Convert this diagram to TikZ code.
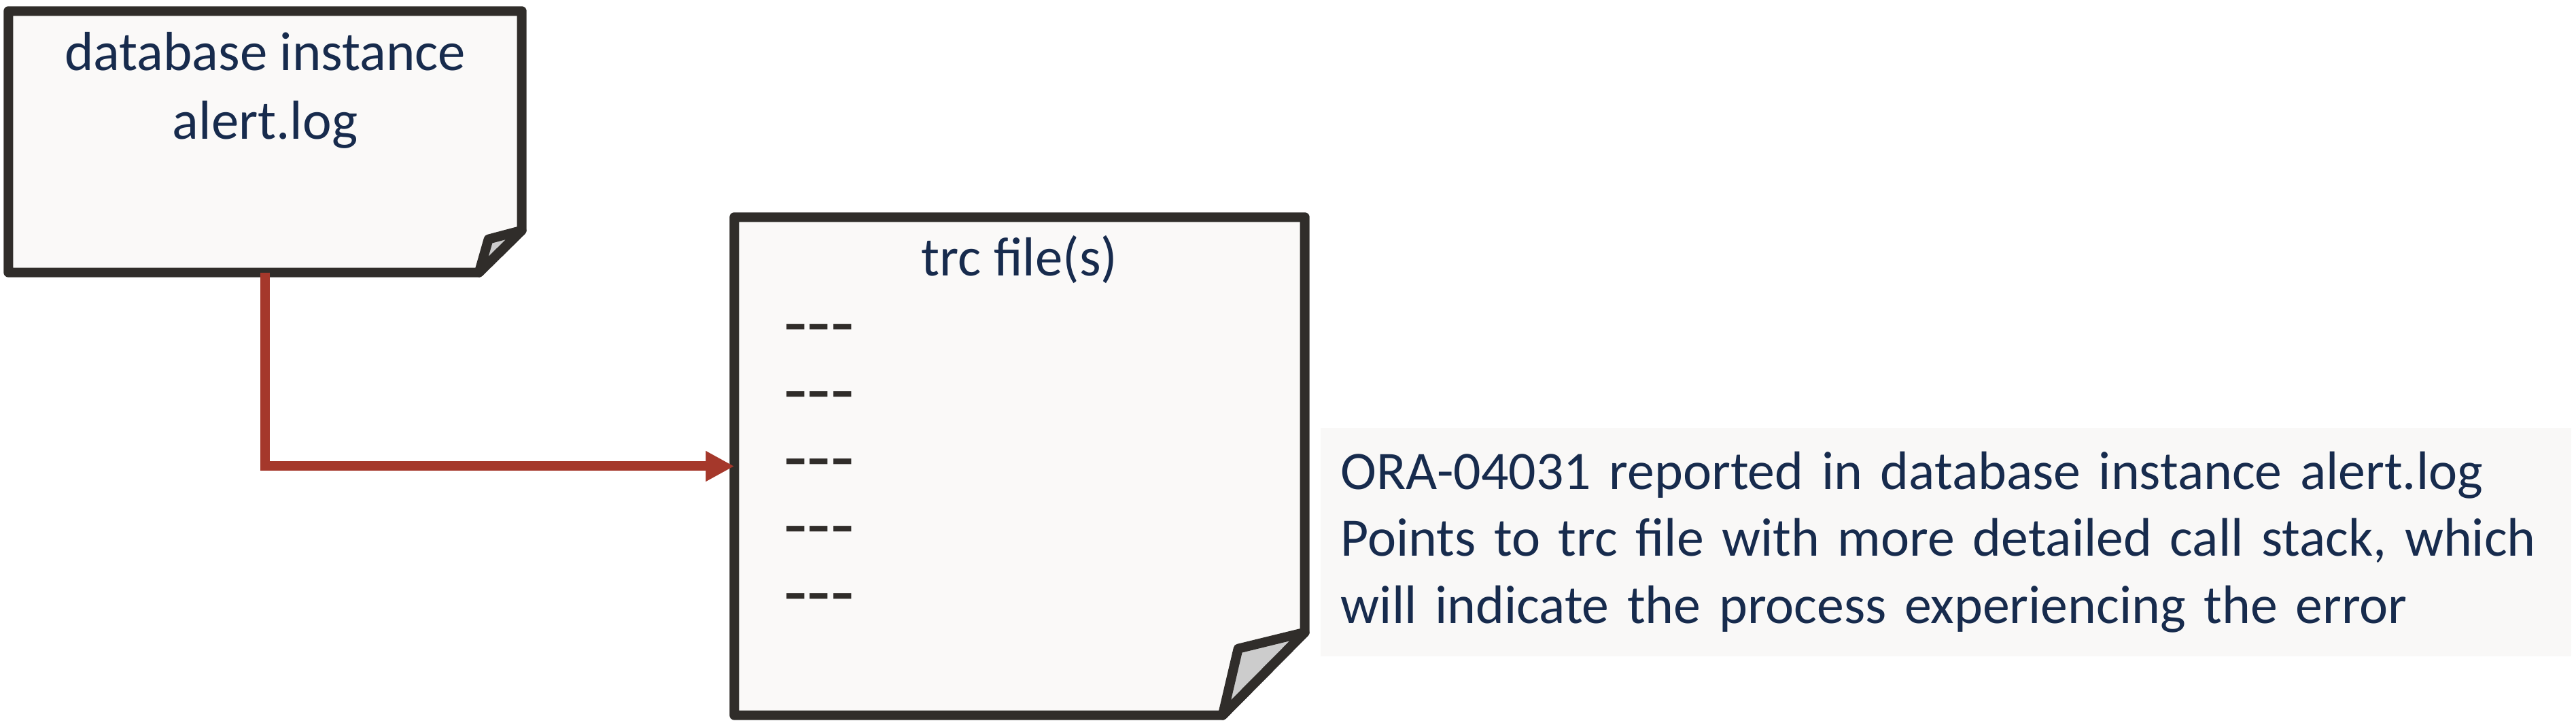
\documentclass[tikz,border=0pt]{standalone}
\usepackage{fontspec}
\setmainfont{Carlito}
\usetikzlibrary{arrows.meta,positioning}
\definecolor{inkline}{RGB}{48,45,42}
\definecolor{paper}{RGB}{250,249,248}
\definecolor{flap}{RGB}{204,204,204}
\definecolor{navy}{RGB}{23,43,77}
\definecolor{linkred}{RGB}{165,56,43}
\definecolor{notebg}{RGB}{249,248,247}

\begin{document}
\begin{tikzpicture}[
  doc/.style={inner sep=0pt},
  sheet/.style={draw=inkline, fill=paper, line width=0.14cm, line join=round},
  fold/.style={draw=inkline, fill=flap, line width=0.14cm, line join=round},
  doctext/.style={text=navy, font=\fontsize{23}{28.7}\selectfont, align=center, inner sep=0pt},
  notetext/.style={text=navy, font=\fontsize{22.7}{28}\selectfont, align=left},
  dashes/.style={text=inkline, font=\fontsize{32}{28.14}\selectfont, align=left, inner sep=0pt},
  link/.style={draw=linkred, line width=0.14cm, -{Triangle[length=0.42cm, width=0.42cm]}}
]
\useasboundingbox (0,0) rectangle (37.90,10.63);

% the two files
\node[doc, minimum width=7.54cm, minimum height=3.83cm] (db) at (3.90,8.545) {};
\node[doc, minimum width=8.38cm, minimum height=7.31cm] (trc) at (15.00,3.775) {};

\draw[sheet] (db.north west) -- (db.north east) -- ([yshift=0.62cm]db.south east) -- ([xshift=-0.63cm]db.south east) -- (db.south west) -- cycle;
\draw[fold] ([yshift=0.62cm]db.south east) -- ([xshift=-0.49cm,yshift=0.49cm]db.south east) -- ([xshift=-0.63cm]db.south east) -- cycle;

\draw[sheet] (trc.north west) -- (trc.north east) -- ([yshift=1.22cm]trc.south east) -- ([xshift=-1.21cm]trc.south east) -- (trc.south west) -- cycle;
\draw[fold] ([yshift=1.22cm]trc.south east) -- ([xshift=-0.98cm,yshift=0.98cm]trc.south east) -- ([xshift=-1.21cm]trc.south east) -- cycle;

\node[doctext] (dbtext) at ([yshift=-1.17cm]db.north) {database instance\\alert.log};
\node[doctext] (trctext) at ([yshift=-0.62cm]trc.north) {trc file(s)};
\node[dashes] (lines) at (12.05,3.705) {-\kern0pt-\kern0pt-\\-\kern0pt-\kern0pt-\\-\kern0pt-\kern0pt-\\-\kern0pt-\kern0pt-\\-\kern0pt-\kern0pt-};

% note
\node[notetext, anchor=west, fill=notebg, text width=17.8cm, minimum height=3.36cm, inner xsep=0.3cm, inner ysep=0pt] (note) at (19.42,2.66)
  {ORA-04031 reported in database instance alert.log\\Points to trc file with more detailed call stack, which\\will indicate the process experiencing the error};

\draw[link] (db.south) |- (trc.west);

\end{tikzpicture}
\end{document}
